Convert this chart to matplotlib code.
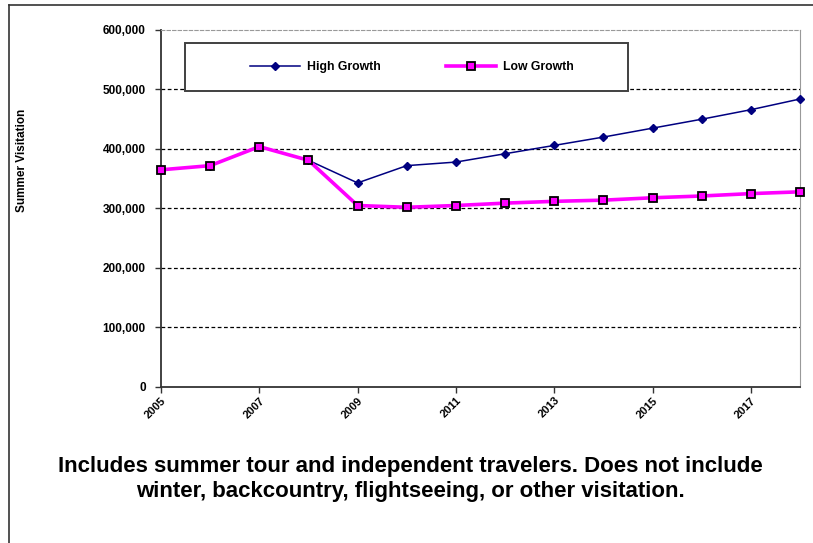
import numpy as np
import matplotlib.pyplot as plt
from matplotlib.lines import Line2D
from matplotlib.patches import Rectangle
from matplotlib.ticker import FuncFormatter, MultipleLocator

# DATA
years = [2005, 2006, 2007, 2008, 2009, 2010, 2011, 2012, 2013, 2014, 2015, 2016, 2017, 2018]
high_growth = [365000, 372000, 404000, 381000, 343000, 372000, 378000, 392000,
               406000, 420000, 435000, 450000, 466000, 484000]
low_growth = [365000, 372000, 404000, 381000, 305000, 302000, 305000, 309000,
              312000, 314000, 318000, 321000, 325000, 328000]
xtick_years = [2005, 2007, 2009, 2011, 2013, 2015, 2017]
caption = ('Includes summer tour and independent travelers. Does not include\n'
           'winter, backcountry, flightseeing, or other visitation.')

plt.rcParams['font.family'] = ['Liberation Sans', 'DejaVu Sans']

fig = plt.figure(figsize=(8.13, 5.43), dpi=100)
ax = fig.add_axes([0.198, 0.2873, 0.786, 0.6575])

ax.plot(years, high_growth, color='#000080', lw=1.1, marker='D', ms=4.5,
        mfc='#000080', mec='#000080', label='High Growth', zorder=3, clip_on=False)
ax.plot(years, low_growth, color='#FF00FF', lw=2.6, marker='s', ms=5.5,
        mfc='#FF00FF', mec='black', mew=1.3, label='Low Growth', zorder=4, clip_on=False)

ax.set_xlim(2005, 2018)
ax.set_ylim(0, 600000)
ax.yaxis.set_major_locator(MultipleLocator(100000))
ax.yaxis.set_major_formatter(FuncFormatter(lambda v, p: f'{int(v):,}'))
ax.set_xticks(xtick_years)
ax.set_xticklabels([str(y) for y in xtick_years], rotation=45, ha='right',
                   rotation_mode='anchor', fontsize=8, fontweight='bold')
for lab in ax.get_yticklabels():
    lab.set_fontsize(8.5)
    lab.set_fontweight('bold')
ax.tick_params(axis='both', length=4, width=1, color='#333333')
ax.tick_params(axis='y', pad=7)
ax.tick_params(axis='x', pad=2)

for v in range(100000, 600000, 100000):
    ax.axhline(v, color='black', lw=0.9, ls=(0, (3, 2)), zorder=1)

ax.spines['top'].set_color('#999999')
ax.spines['top'].set_linestyle((0, (3, 2)))
ax.spines['right'].set_color('#999999')
ax.spines['left'].set_color('#333333')
ax.spines['left'].set_linewidth(1.3)
ax.spines['bottom'].set_color('#333333')
ax.spines['bottom'].set_linewidth(1.3)

fig.text(22 / 813, 1 - 160 / 543, 'Summer Visitation', rotation=90, ha='center',
         va='center', fontsize=8.5, fontweight='bold')

# legend box
box = Rectangle((0.0376, 0.829), 0.694, 0.135, transform=ax.transAxes,
                facecolor='white', edgecolor='#404040', lw=1.4, zorder=5)
ax.add_patch(box)
leg = ax.legend(loc='center', ncol=2, bbox_to_anchor=(0.3925, 0.8965),
                frameon=False, handlelength=4.1, columnspacing=5.3,
                handletextpad=0.6, prop={'weight': 'bold', 'size': 8.8})
leg.set_zorder(6)

fig.text(0.505, 1 - 479 / 543, caption, ha='center', va='center', fontsize=16,
         fontweight='bold', linespacing=1.2)

# outer border (left and top only visible)
fig.add_artist(Line2D([0.011, 0.011], [0, 0.991], color='#333333', lw=1.2,
                      transform=fig.transFigure))
fig.add_artist(Line2D([0.011, 1.0], [0.991, 0.991], color='#333333', lw=1.2,
                      transform=fig.transFigure))

fig.savefig('out.png', dpi=100)
